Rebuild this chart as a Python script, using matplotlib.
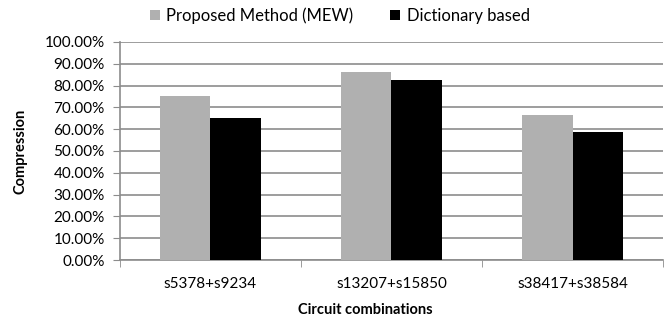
import matplotlib.pyplot as plt
import numpy as np
from matplotlib.ticker import FuncFormatter, FixedLocator

plt.rcParams['font.family'] = ['Lato', 'DejaVu Sans']

circuits = ['s5378+s9234', 's13207+s15850', 's38417+s38584']
proposed = [75.2, 86.4, 66.4]
dictionary = [65.1, 82.7, 58.6]
series_names = ['Proposed Method (MEW)', 'Dictionary based']

fig = plt.figure(figsize=(6.7, 3.2), dpi=100)
ax = fig.add_axes([0.179, 0.1875, 0.8106, 0.6815])

x = np.arange(len(circuits))
w = 0.28
ax.bar(x - w / 2, proposed, w, color='#b0b0b0', label=series_names[0], zorder=3)
ax.bar(x + w / 2, dictionary, w, color='black', label=series_names[1], zorder=3)

ax.set_xlim(-0.5, len(circuits) - 0.5)
ax.set_ylim(0, 100)
ax.set_yticks(np.arange(0, 101, 10))
ax.yaxis.set_major_formatter(FuncFormatter(lambda v, p: '%.2f%%' % v))
ax.yaxis.grid(True, color='#8c8c8c', lw=1.2, zorder=0)
ax.set_xticks(x)
ax.set_xticklabels(circuits)
ax.xaxis.set_minor_locator(FixedLocator(np.arange(-0.5, len(circuits), 1.0)))
ax.tick_params(axis='x', which='major', length=0, pad=12, labelsize=11)
ax.tick_params(axis='x', which='minor', length=5, color='#8c8c8c')
ax.tick_params(axis='y', length=5, color='#8c8c8c', labelsize=11, pad=6)

for s in ['top', 'right']:
    ax.spines[s].set_visible(False)
for s in ['left', 'bottom']:
    ax.spines[s].set_color('#8c8c8c')
    ax.spines[s].set_linewidth(1.2)

ax.set_ylabel('Compression', fontweight='bold', fontsize=10.5)
ax.set_xlabel('Circuit combinations', fontweight='bold', fontsize=10.5)
ax.yaxis.set_label_coords(-0.17, 0.5)
ax.xaxis.set_label_coords(0.451, -0.195)

ax.legend(loc='center', bbox_to_anchor=(0.405, 1.12), ncol=2, frameon=False,
          fontsize=12, handlelength=0.6, handleheight=0.6, handletextpad=0.4,
          columnspacing=2.2)

fig.savefig('out.png', dpi=100)
